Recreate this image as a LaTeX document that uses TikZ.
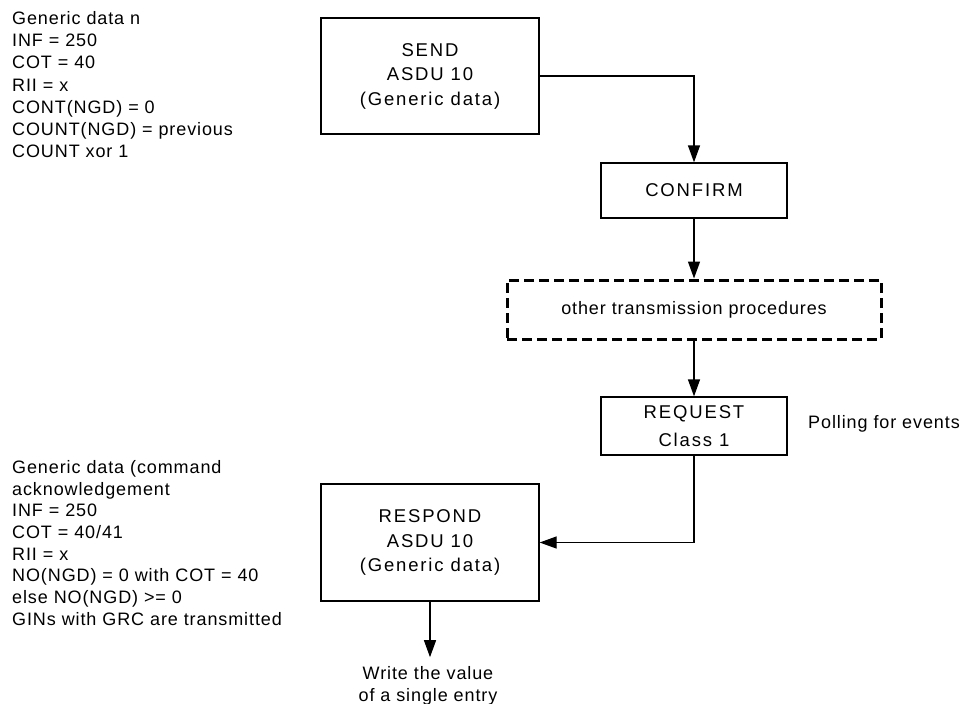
\documentclass[tikz,border=0pt]{standalone}
\usepackage{fontspec}
\setmainfont{Liberation Sans}
\usetikzlibrary{arrows.meta}
\newfontfamily\boxfont{Liberation Sans}[LetterSpace=10]
\newfontfamily\txtfont{Liberation Sans}[LetterSpace=5]
\begin{document}
\begin{tikzpicture}[x=1pt,y=-1pt,
  procbox/.style={draw=black, line width=1.3pt, align=center, inner sep=0pt,
    font=\boxfont\fontsize{18.5}{24.5}\selectfont},
  dashbox/.style={draw=black, line width=3pt, dash pattern=on 10pt off 5pt,
    align=center, inner sep=0pt, font=\txtfont\fontsize{18}{21}\selectfont},
  note/.style={align=left, inner sep=0pt, font=\txtfont\fontsize{18}{22.2}\selectfont},
  arr/.style={draw=black, line width=1.3pt, -{Triangle[length=17pt,width=12pt]}}]
\useasboundingbox (0,0) rectangle (972,704);
\fill[white] (0,0) rectangle (972,704);

\node[note, anchor=north west] (info1) at (12,11.2)
  {Generic data n\\INF = 250\\COT = 40\\RII = x\\CONT(NGD) = 0\\COUNT(NGD) = previous\\COUNT xor 1};

\node[procbox, minimum width=218pt, minimum height=116pt] (send) at (430,76)
  {SEND\\ASDU 10\\(Generic data)};
\node[procbox, minimum width=186pt, minimum height=55pt] (confirm) at (694,190.5)
  {CONFIRM};
\node[dashbox, minimum width=374pt, minimum height=59pt] (other) at (694,309.5)
  {other transmission procedures};
\node[procbox, minimum width=186pt, minimum height=58pt,
  font=\boxfont\fontsize{18.5}{28}\selectfont] (request) at (694,426)
  {REQUEST\\Class 1};
\node[note, anchor=base west] (poll) at (808,428.5) {Polling for events};

\node[note, anchor=north west, font=\txtfont\fontsize{18}{21.7}\selectfont] (info2) at (12,460.2)
  {Generic data (command\\acknowledgement\\INF = 250\\COT = 40/41\\RII = x\\NO(NGD) = 0 with COT = 40\\else NO(NGD) >= 0\\GINs with GRC are transmitted};

\node[procbox, minimum width=218pt, minimum height=117pt] (respond) at (430,542.5)
  {RESPOND\\ASDU 10\\(Generic data)};
\node[note, align=center, anchor=north, font=\txtfont\fontsize{18}{22.3}\selectfont] (write) at (428,666.2)
  {Write the value\\of a single entry};

\draw[arr] (send.east) -| (confirm.north);
\draw[arr] (confirm.south) -- (other.north);
\draw[arr] (other.south) -- (request.north);
\draw[arr] (request.south) |- (respond.east);
\draw[arr] (respond.south) -- ([yshift=9pt]write.north -| respond.south);
\end{tikzpicture}
\end{document}
